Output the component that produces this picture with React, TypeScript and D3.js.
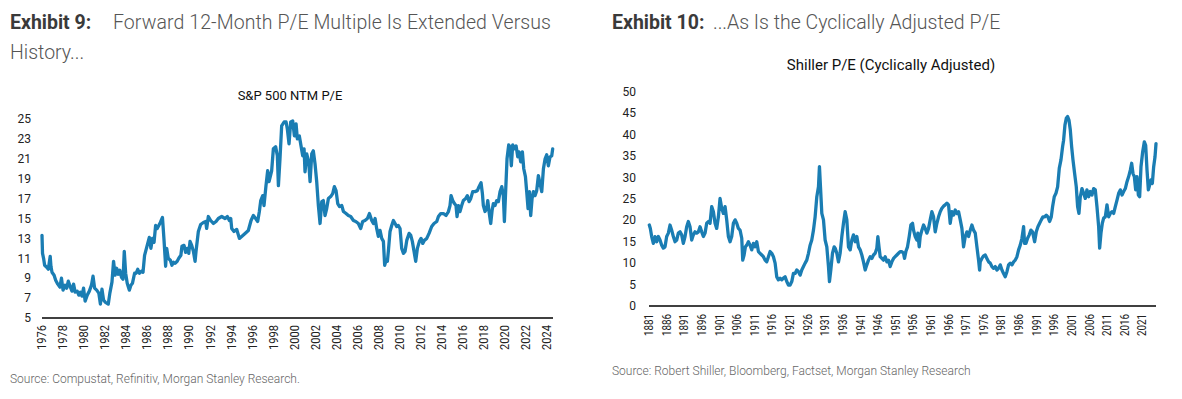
import React from "react";
import * as d3 from "d3";

// ---------- Data ----------
// S&P 500 NTM P/E  [decimal year, value]
const spNtmPE: [number, number][] = [
  [1976.0, 13.3], [1976.05, 11.5], [1976.15, 11.0], [1976.25, 10.3], [1976.45, 10.1], [1976.6, 9.9], [1976.78, 11.2], [1976.85, 10.2], [1976.95, 9.6],
  [1977.15, 9.3], [1977.3, 8.8], [1977.5, 8.4], [1977.7, 8.1], [1977.85, 9.0], [1978.0, 7.8], [1978.2, 8.3], [1978.35, 8.0], [1978.5, 8.7], [1978.7, 8.1],
  [1978.85, 7.7], [1979.0, 8.4], [1979.15, 7.6], [1979.35, 7.7], [1979.5, 7.3], [1979.65, 7.6], [1979.8, 7.2], [1979.95, 8.0], [1980.1, 6.7], [1980.3, 7.3],
  [1980.5, 7.7], [1980.7, 8.3], [1980.85, 9.2], [1981.0, 8.0], [1981.2, 7.8], [1981.4, 7.5], [1981.55, 6.4], [1981.7, 7.9], [1981.85, 6.8], [1982.0, 6.6],
  [1982.3, 6.4], [1982.45, 7.5], [1982.65, 8.6], [1982.8, 10.7], [1982.95, 9.3], [1983.1, 10.0], [1983.25, 9.4], [1983.4, 9.8], [1983.55, 9.1], [1983.7, 8.9],
  [1983.82, 11.7], [1983.95, 9.5], [1984.1, 8.5], [1984.3, 7.8], [1984.45, 8.3], [1984.6, 8.5], [1984.8, 9.5], [1984.95, 9.5], [1985.1, 9.9], [1985.25, 9.5],
  [1985.45, 9.7], [1985.6, 9.6], [1985.75, 11.3], [1985.9, 11.9], [1986.05, 12.5], [1986.2, 13.1], [1986.35, 12.0], [1986.5, 13.0], [1986.65, 12.6],
  [1986.8, 14.3], [1986.95, 14.0], [1987.1, 14.3], [1987.25, 14.6], [1987.45, 15.1], [1987.6, 12.8], [1987.75, 10.2], [1987.85, 12.0], [1988.0, 11.0],
  [1988.2, 10.8], [1988.35, 10.3], [1988.5, 10.6], [1988.65, 10.5], [1988.85, 10.7], [1989.0, 11.0], [1989.2, 11.3], [1989.3, 12.2], [1989.5, 12.3],
  [1989.65, 11.6], [1989.8, 12.0], [1989.95, 11.5], [1990.07, 12.7], [1990.23, 12.3], [1990.39, 11.7], [1990.55, 10.7], [1990.64, 11.7], [1990.86, 13.7],
  [1991.08, 14.4], [1991.34, 14.6], [1991.56, 14.7], [1991.65, 14.0], [1991.81, 15.2], [1992.03, 14.8], [1992.29, 14.5], [1992.54, 14.7], [1992.76, 15.0],
  [1993.08, 15.2], [1993.4, 15.0], [1993.62, 15.2], [1993.81, 14.8], [1993.94, 15.0], [1994.03, 14.0], [1994.25, 13.7], [1994.51, 13.9], [1994.76, 13.0],
  [1994.98, 13.2], [1995.3, 13.5], [1995.61, 13.8], [1995.87, 14.8], [1996.09, 15.3], [1996.31, 15.0], [1996.5, 14.7], [1996.66, 15.7], [1996.79, 16.8],
  [1996.98, 17.3], [1997.1, 16.3], [1997.29, 18.3], [1997.45, 19.8], [1997.58, 18.7], [1997.83, 19.8], [1997.99, 22.0], [1998.21, 22.2], [1998.37, 21.3],
  [1998.47, 18.3], [1998.62, 21.0], [1998.78, 24.3], [1999.01, 24.7], [1999.2, 24.7], [1999.32, 24.0], [1999.48, 22.5], [1999.64, 24.7], [1999.83, 24.8],
  [1999.99, 23.3], [2000.15, 24.5], [2000.27, 23.0], [2000.46, 23.3], [2000.62, 22.3], [2000.78, 21.3], [2000.91, 22.0], [2001.0, 19.7], [2001.16, 21.5],
  [2001.35, 20.7], [2001.48, 18.7], [2001.64, 21.5], [2001.79, 21.8], [2001.95, 20.5], [2002.11, 18.7], [2002.27, 16.3], [2002.43, 14.5], [2002.59, 16.7],
  [2002.74, 16.8], [2002.9, 15.3], [2003.06, 16.0], [2003.22, 17.0], [2003.44, 17.2], [2003.63, 17.5], [2003.79, 18.2], [2003.95, 17.8], [2004.11, 16.5],
  [2004.27, 16.2], [2004.49, 16.3], [2004.65, 15.7], [2004.9, 15.5], [2005.12, 15.3], [2005.34, 15.2], [2005.6, 14.8], [2005.82, 14.7], [2006.07, 14.5],
  [2006.29, 14.0], [2006.48, 14.7], [2006.7, 14.8], [2006.93, 15.0], [2007.12, 15.5], [2007.34, 14.8], [2007.5, 14.5], [2007.66, 15.0], [2007.81, 14.0],
  [2007.97, 13.2], [2008.13, 13.8], [2008.29, 13.0], [2008.45, 12.7], [2008.57, 10.3], [2008.7, 10.8], [2008.83, 10.7], [2008.92, 11.7], [2009.08, 13.7],
  [2009.24, 14.3], [2009.4, 14.8], [2009.56, 14.5], [2009.71, 14.2], [2009.87, 14.3], [2010.03, 14.0], [2010.19, 12.0], [2010.35, 11.5], [2010.51, 11.7],
  [2010.67, 12.8], [2010.89, 13.5], [2011.05, 13.3], [2011.2, 12.7], [2011.36, 11.7], [2011.52, 10.7], [2011.68, 12.0], [2011.87, 12.7], [2012.03, 13.0],
  [2012.19, 12.5], [2012.34, 12.8], [2012.57, 13.0], [2012.79, 13.5], [2013.04, 14.2], [2013.26, 14.5], [2013.52, 14.7], [2013.68, 15.2], [2013.9, 15.5],
  [2014.15, 15.5], [2014.4, 15.3], [2014.63, 15.7], [2014.78, 16.3], [2014.88, 17.3], [2015.04, 16.8], [2015.2, 16.5], [2015.35, 16.3], [2015.45, 15.2],
  [2015.58, 16.3], [2015.73, 15.7], [2015.89, 16.3], [2016.05, 16.8], [2016.27, 17.0], [2016.43, 17.3], [2016.59, 16.7], [2016.75, 17.0], [2016.94, 17.7],
  [2017.16, 17.7], [2017.38, 17.8], [2017.54, 18.2], [2017.73, 18.6], [2017.86, 17.5], [2017.95, 16.3], [2018.11, 15.7], [2018.27, 16.0], [2018.37, 16.8],
  [2018.49, 15.7], [2018.65, 14.5], [2018.78, 15.8], [2018.9, 16.5], [2019.06, 16.3], [2019.22, 16.8], [2019.38, 16.7], [2019.54, 17.7], [2019.7, 18.2],
  [2019.85, 17.3], [2019.95, 14.7], [2020.08, 18.0], [2020.2, 21.0], [2020.36, 22.4], [2020.49, 22.2], [2020.61, 20.3], [2020.74, 22.4], [2020.9, 22.0],
  [2021.06, 22.3], [2021.22, 21.2], [2021.34, 21.7], [2021.5, 20.7], [2021.66, 21.7], [2021.79, 20.0], [2021.95, 19.2], [2022.07, 17.7], [2022.2, 16.0],
  [2022.33, 17.7], [2022.45, 15.3], [2022.58, 17.0], [2022.71, 17.7], [2022.86, 17.3], [2023.02, 17.8], [2023.18, 19.3], [2023.34, 18.5], [2023.5, 17.7],
  [2023.66, 20.0], [2023.82, 21.0], [2023.97, 21.4], [2024.13, 20.3], [2024.29, 21.2], [2024.45, 21.3], [2024.54, 22.0],
];

// Shiller P/E (CAPE)  [decimal year, value]
const shillerCAPE: [number, number][] = [
  [1881.09, 18.9], [1881.38, 18.1], [1881.76, 16.2], [1882.23, 14.6], [1882.7, 16.2], [1883.18, 15.0], [1883.65, 16.2], [1884.13, 15.4], [1884.6, 14.2],
  [1885.07, 13.5], [1885.55, 13.8], [1886.02, 16.2], [1886.49, 17.0], [1886.97, 18.9], [1887.44, 17.7], [1887.91, 16.2], [1888.39, 15.0], [1888.86, 15.4],
  [1889.33, 17.0], [1889.81, 17.3], [1890.28, 16.6], [1890.75, 14.6], [1891.23, 16.2], [1891.7, 18.5], [1892.17, 19.7], [1892.65, 18.5], [1893.12, 15.4],
  [1893.59, 16.6], [1894.07, 17.3], [1894.54, 17.0], [1895.02, 17.3], [1895.49, 18.5], [1895.96, 17.3], [1896.44, 16.2], [1896.91, 17.0], [1897.38, 19.3],
  [1897.86, 19.7], [1898.33, 19.3], [1898.8, 23.2], [1899.28, 22.0], [1899.75, 19.3], [1900.22, 18.1], [1900.7, 20.8], [1901.17, 25.1], [1901.64, 22.8],
  [1902.12, 21.6], [1902.59, 23.2], [1903.06, 20.1], [1903.54, 16.2], [1904.01, 15.0], [1904.48, 16.2], [1904.96, 19.3], [1905.43, 20.1], [1905.91, 19.3],
  [1906.38, 18.1], [1906.85, 17.7], [1907.33, 15.8], [1907.61, 10.7], [1907.99, 11.9], [1908.37, 13.8], [1908.75, 14.2], [1909.22, 15.0], [1909.69, 14.2],
  [1910.17, 13.1], [1910.64, 14.6], [1911.11, 13.8], [1911.59, 15.0], [1912.06, 12.7], [1912.53, 12.3], [1913.01, 11.9], [1913.48, 11.5], [1913.95, 10.7],
  [1914.43, 10.3], [1914.9, 11.5], [1915.38, 12.7], [1915.85, 12.3], [1916.32, 11.5], [1916.8, 10.0], [1917.27, 6.8], [1917.74, 6.1], [1918.22, 6.5],
  [1918.69, 6.1], [1919.16, 6.5], [1919.64, 6.8], [1920.11, 5.7], [1920.58, 4.9], [1921.06, 4.9], [1921.53, 5.7], [1922.0, 7.6],
  [1922.48, 7.6], [1922.95, 8.4], [1923.43, 8.0], [1923.9, 7.2], [1924.37, 8.4], [1924.85, 9.2], [1925.32, 10.0], [1925.79, 10.7], [1926.27, 12.3],
  [1926.74, 14.2], [1927.21, 15.4], [1927.69, 17.7], [1928.16, 20.8], [1928.64, 25.5], [1929.11, 27.8], [1929.39, 32.5], [1929.68, 27.8], [1930.06, 21.6],
  [1930.53, 20.1], [1931.0, 15.4], [1931.48, 13.8], [1931.95, 9.2], [1932.23, 5.7], [1932.61, 8.4], [1933.09, 12.3], [1933.56, 13.8], [1933.84, 13.5],
  [1934.32, 12.3], [1934.79, 10.3], [1935.26, 12.3], [1935.74, 16.2], [1936.21, 19.3], [1936.68, 22.0], [1937.16, 20.1], [1937.63, 13.8], [1938.11, 13.1],
  [1938.58, 15.4], [1939.05, 16.6], [1939.53, 15.0], [1940.0, 16.2], [1940.47, 13.8], [1940.95, 13.1], [1941.42, 11.9], [1941.89, 10.3], [1942.37, 8.4],
  [1942.84, 9.6], [1943.31, 10.7], [1943.79, 11.5], [1944.26, 11.1], [1944.73, 11.9], [1945.21, 12.3], [1945.68, 13.5], [1945.97, 16.2], [1946.34, 13.5],
  [1946.63, 11.5], [1947.1, 11.1], [1947.57, 10.7], [1948.05, 11.5], [1948.52, 10.3], [1948.99, 10.7], [1949.47, 9.2], [1949.94, 10.3], [1950.42, 11.1],
  [1950.89, 11.5], [1951.36, 11.9], [1951.84, 12.3], [1952.31, 12.7], [1952.78, 12.7], [1953.26, 12.3], [1953.54, 11.1], [1953.92, 12.7], [1954.39, 13.8],
  [1954.87, 16.2], [1955.34, 18.9], [1955.81, 19.3], [1956.1, 17.7], [1956.57, 16.2], [1957.04, 15.4], [1957.33, 17.0], [1957.71, 13.8], [1957.99, 16.2],
  [1958.47, 17.7], [1958.94, 18.9], [1959.41, 18.1], [1959.89, 17.0], [1960.36, 18.1], [1960.83, 20.1], [1961.31, 22.0], [1961.78, 20.8], [1962.25, 17.3],
  [1962.73, 19.3], [1963.2, 20.8], [1963.67, 22.0], [1964.15, 22.8], [1964.62, 23.3], [1965.09, 23.6], [1965.57, 24.0], [1966.04, 23.6], [1966.51, 19.3],
  [1966.99, 22.0], [1967.46, 21.2], [1967.93, 22.4], [1968.41, 21.6], [1968.88, 22.0], [1969.36, 20.1], [1969.83, 18.1], [1970.3, 13.8], [1970.78, 16.2],
  [1971.25, 17.3], [1971.72, 16.2], [1972.2, 17.7], [1972.67, 18.9], [1973.14, 17.7], [1973.62, 17.0], [1974.09, 13.8], [1974.56, 10.7], [1974.85, 8.4],
  [1975.03, 10.3], [1975.5, 11.1], [1975.98, 11.7], [1976.45, 11.9], [1976.92, 11.1], [1977.4, 10.3], [1977.87, 10.0], [1978.34, 9.2], [1978.82, 8.8],
  [1979.29, 9.2], [1979.76, 8.4], [1980.24, 8.8], [1980.71, 9.6], [1981.19, 8.4], [1981.66, 7.6], [1982.13, 6.8], [1982.61, 8.0], [1983.08, 9.6],
  [1983.55, 10.0], [1984.03, 9.6], [1984.5, 10.3], [1984.97, 10.7], [1985.45, 11.5], [1985.92, 13.1], [1986.39, 14.2], [1986.87, 15.8], [1987.34, 18.5],
  [1987.62, 14.6], [1988.0, 14.6], [1988.48, 15.8], [1988.95, 16.6], [1989.42, 17.7], [1989.9, 17.3], [1990.47, 15.0], [1990.94, 17.3], [1991.41, 18.5],
  [1991.89, 19.3], [1992.36, 20.1], [1992.83, 20.8], [1993.31, 20.8], [1993.78, 21.2], [1994.25, 20.8], [1994.73, 19.7], [1995.2, 20.8], [1995.58, 23.2],
  [1996.05, 25.5], [1996.53, 26.3], [1997.0, 27.8], [1997.47, 32.1], [1997.95, 34.1], [1998.42, 37.2], [1998.7, 38.7], [1999.08, 42.2], [1999.46, 43.8],
  [1999.84, 44.2], [2000.22, 43.4], [2000.6, 41.1], [2000.98, 37.2], [2001.36, 34.1], [2001.83, 30.9], [2002.3, 27.8], [2002.68, 23.2], [2003.06, 21.6],
  [2003.44, 25.5], [2003.91, 27.4], [2004.39, 26.3], [2004.86, 25.1], [2005.33, 27.1], [2005.81, 25.5], [2006.28, 26.7], [2006.75, 25.9], [2007.23, 27.4],
  [2007.7, 27.1], [2008.17, 23.2], [2008.65, 18.5], [2008.93, 13.5], [2009.31, 17.0], [2009.69, 19.3], [2010.07, 20.5], [2010.54, 20.8], [2011.02, 23.6],
  [2011.49, 20.8], [2011.96, 21.6], [2012.44, 22.0], [2012.91, 21.6], [2013.38, 23.2], [2013.86, 24.7], [2014.33, 26.3], [2014.8, 27.1], [2015.28, 25.9],
  [2015.75, 26.7], [2016.22, 27.4], [2016.7, 29.0], [2017.17, 30.2], [2017.64, 31.7], [2018.02, 33.3], [2018.4, 30.9], [2018.78, 30.2], [2019.16, 27.1],
  [2019.54, 30.2], [2019.92, 25.9], [2020.29, 25.5], [2020.67, 32.5], [2021.15, 36.0], [2021.62, 38.3], [2022.0, 37.5], [2022.38, 31.7], [2022.76, 27.1],
  [2023.13, 28.2], [2023.51, 29.4], [2023.89, 28.6], [2024.27, 32.5], [2024.65, 34.8], [2024.93, 37.9],
];

const leftYTicks = [5, 7, 9, 11, 13, 15, 17, 19, 21, 23, 25];
const leftXTicks = [1976, 1978, 1980, 1982, 1984, 1986, 1988, 1990, 1992, 1994, 1996, 1998, 2000, 2002, 2004, 2006, 2008, 2010, 2012, 2014, 2016, 2018, 2020, 2022, 2024];
const rightYTicks = [0, 5, 10, 15, 20, 25, 30, 35, 40, 45, 50];
const rightXTicks = [1881, 1886, 1891, 1896, 1901, 1906, 1911, 1916, 1921, 1926, 1931, 1936, 1941, 1946, 1951, 1956, 1961, 1966, 1971, 1976, 1981, 1986, 1991, 1996, 2001, 2006, 2011, 2016, 2021];

// ---------- Styles ----------
const FONT = "Roboto, 'Liberation Sans', Arial, sans-serif";
const LINE_COLOR = "#1a7db3";

type PanelProps = {
  data: [number, number][];
  xDomain: [number, number];
  xRange: [number, number];
  yDomain: [number, number];
  yRange: [number, number];
  yTicks: number[];
  xTicks: number[];
  yLabelX: number;
  xLabelTop: number;
  xLabelLen: number;
};

function Panel(p: PanelProps) {
  const x = d3.scaleLinear().domain(p.xDomain).range(p.xRange);
  const y = d3.scaleLinear().domain(p.yDomain).range(p.yRange);
  const line = d3
    .line<[number, number]>()
    .x((d) => x(d[0]))
    .y((d) => y(d[1]));
  const baseY = y(p.yDomain[0]);
  return (
    <g>
      {p.yTicks.map((t) => (
        <text key={"y" + t} x={p.yLabelX} y={y(t)} dy="0.35em" textAnchor="end" fontSize={12} fill="#222" fontFamily={FONT}>
          {t}
        </text>
      ))}
      <line x1={p.xRange[0]} x2={p.xRange[1]} y1={baseY} y2={baseY} stroke="#000" strokeWidth={1.5} />
      {p.xTicks.map((t) => (
        <text
          key={"x" + t}
          transform={`translate(${x(t)},${p.xLabelTop}) rotate(-90)`}
          dy="0.35em"
          textAnchor="end"
          fontSize={12}
          fill="#222"
          fontFamily={FONT}
          textLength={p.xLabelLen}
          lengthAdjust="spacingAndGlyphs"
        >
          {t}
        </text>
      ))}
      <path d={line(p.data) || ""} fill="none" stroke={LINE_COLOR} strokeWidth={3.3} strokeLinejoin="round" strokeLinecap="round" />
    </g>
  );
}

export default function App() {
  return (
    <svg width={1182} height={399} style={{ position: "absolute", left: 0, top: 0, background: "#fff" }}>
      <rect width={1182} height={399} fill="#fff" />
      {/* Left titles */}
      <text x={10} y={29} fontFamily={FONT} fontSize={19.5}>
        <tspan fontWeight={700} fill="#3a3a3a">Exhibit 9:</tspan>
        <tspan x={113} fontWeight={300} fill="#555" textLength={438} lengthAdjust="spacing">Forward 12-Month P/E Multiple Is Extended Versus</tspan>
      </text>
      <text x={10} y={59} fontFamily={FONT} fontSize={19.5} fontWeight={300} fill="#555">History...</text>
      <text x={290} y={100} textAnchor="middle" fontFamily={FONT} fontSize={13} fill="#111">S&amp;P 500 NTM P/E</text>

      {/* Right titles */}
      <text x={612} y={29} fontFamily={FONT} fontSize={19.5}>
        <tspan fontWeight={700} fill="#3a3a3a">Exhibit 10:</tspan>
        <tspan x={713} fontWeight={300} fill="#555">...As Is the Cyclically Adjusted P/E</tspan>
      </text>
      <text x={891} y={70} textAnchor="middle" fontFamily={FONT} fontSize={15} fill="#111">Shiller P/E (Cyclically Adjusted)</text>

      <Panel
        data={spNtmPE}
        xDomain={[1976, 2024.57]}
        xRange={[42, 553]}
        yDomain={[5, 25]}
        yRange={[318, 119]}
        yTicks={leftYTicks}
        xTicks={leftXTicks}
        yLabelX={31}
        xLabelTop={325}
        xLabelLen={25}
      />
      <Panel
        data={shillerCAPE}
        xDomain={[1881, 2024.93]}
        xRange={[649, 1156]}
        yDomain={[0, 50]}
        yRange={[306, 91.7]}
        yTicks={rightYTicks}
        xTicks={rightXTicks}
        yLabelX={636}
        xLabelTop={314}
        xLabelLen={22}
      />

      <text x={10} y={383} fontFamily={FONT} fontSize={12} fontWeight={300} fill="#666">
        Source: Compustat, Refinitiv, Morgan Stanley Research.
      </text>
      <text x={612} y={375} fontFamily={FONT} fontSize={12} fontWeight={300} fill="#666">
        Source: Robert Shiller, Bloomberg, Factset, Morgan Stanley Research
      </text>
    </svg>
  );
}
